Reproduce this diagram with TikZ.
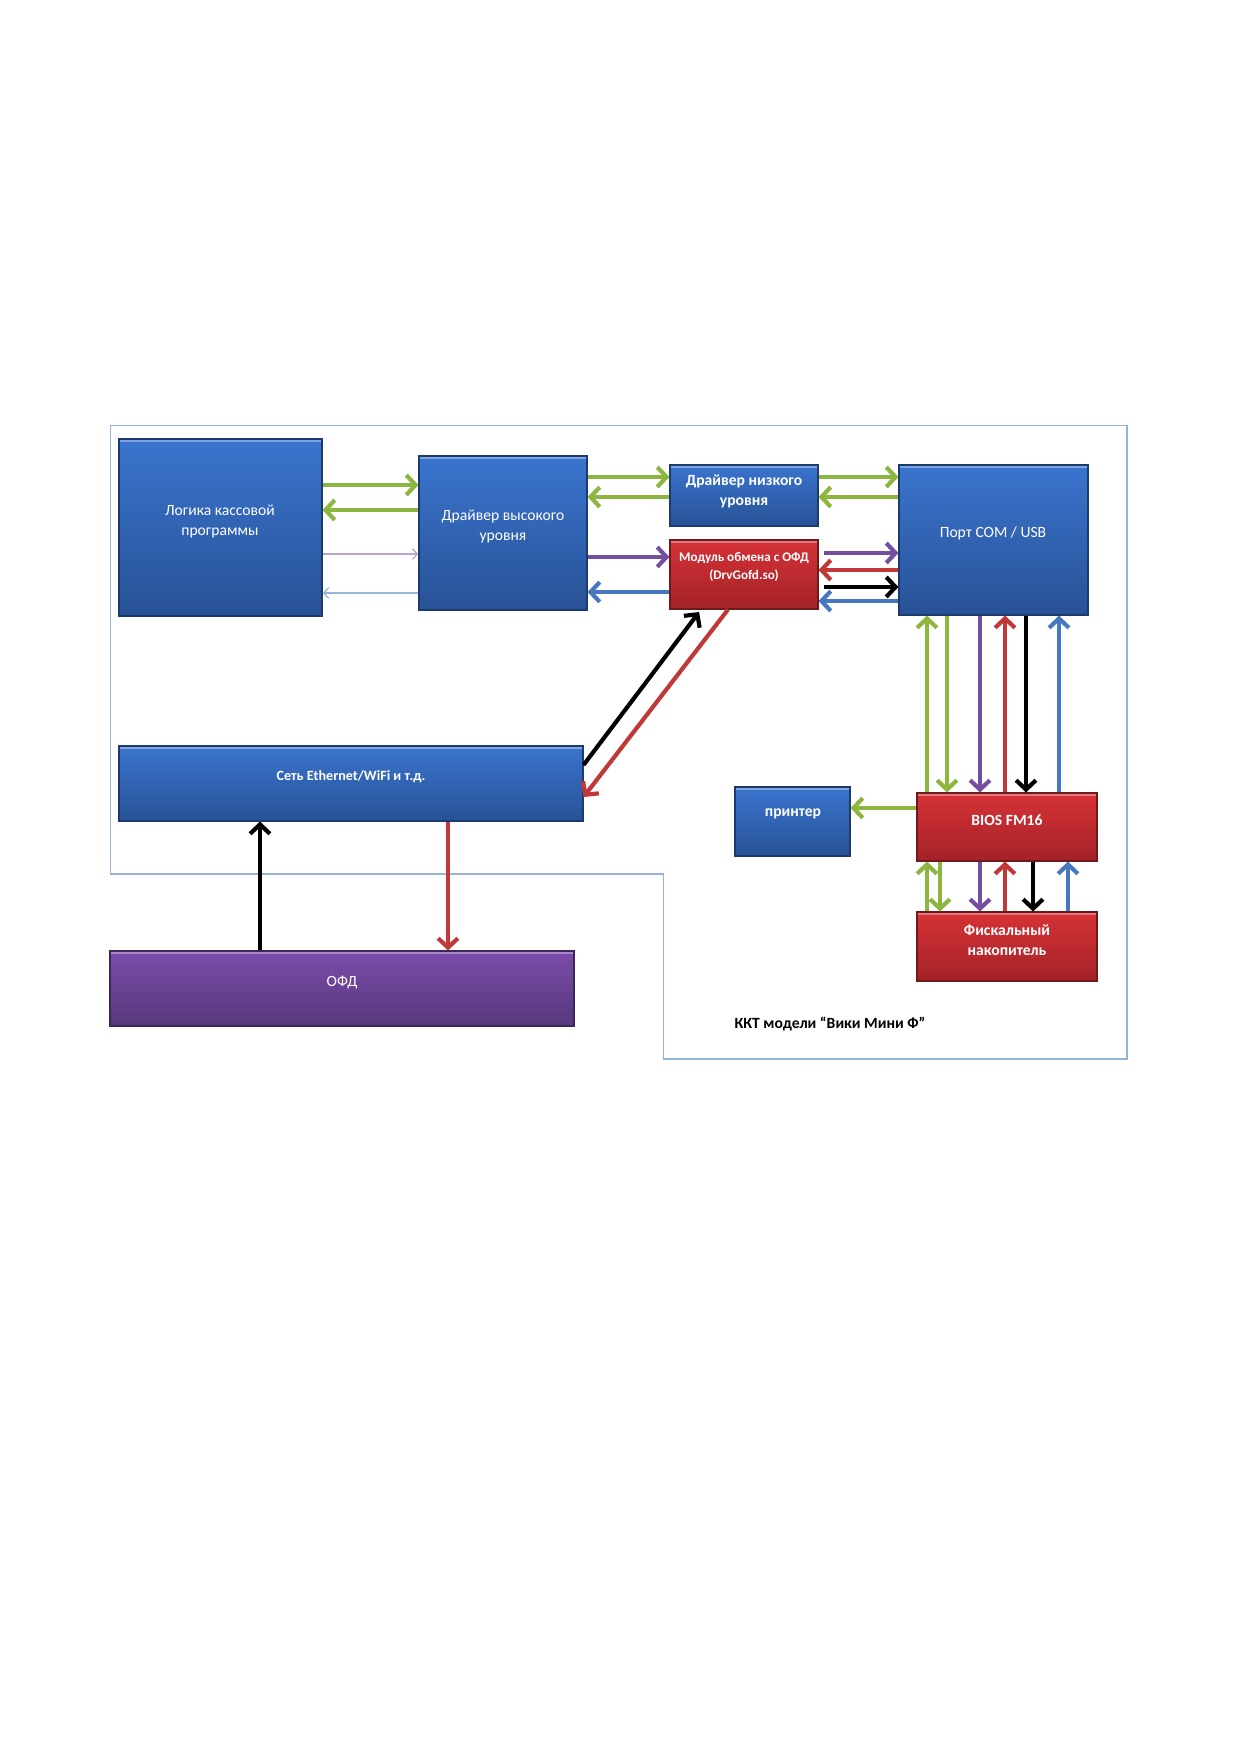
\documentclass[tikz,border=0pt]{standalone}
\usepackage{fontspec}
\setmainfont{Carlito}
\usetikzlibrary{arrows.meta,fit,calc}
\definecolor{blT}{RGB}{58,116,206}
\definecolor{blB}{RGB}{40,82,150}
\definecolor{blD}{RGB}{28,58,108}
\definecolor{rdT}{RGB}{214,50,54}
\definecolor{rdB}{RGB}{163,34,40}
\definecolor{rdD}{RGB}{110,25,28}
\definecolor{puT}{RGB}{124,76,170}
\definecolor{puB}{RGB}{86,56,124}
\definecolor{puD}{RGB}{60,38,90}
\definecolor{cgreen}{RGB}{140,182,62}
\definecolor{cpurple}{RGB}{117,78,160}
\definecolor{cred}{RGB}{192,56,56}
\definecolor{cblue}{RGB}{70,120,192}
\definecolor{tpurple}{RGB}{184,165,212}
\definecolor{tblue}{RGB}{150,180,222}
\definecolor{frame}{RGB}{150,180,216}
\tikzset{
  boxbase/.style={inner sep=0pt, draw, line width=0.5pt,
    path picture={\draw[white,opacity=0.35,line width=1.2pt]
      ([yshift=-0.6pt]path picture bounding box.north west) -- ([yshift=-0.6pt]path picture bounding box.north east);}},
  bluebox/.style={boxbase, draw=blD, top color=blT, bottom color=blB},
  redbox/.style={boxbase, draw=rdD, top color=rdT, bottom color=rdB},
  purplebox/.style={boxbase, draw=puD, top color=puT, bottom color=puB},
  lbl/.style={text=white, align=center, font=\fontsize{7.5}{9.6}\selectfont},
  lblb/.style={lbl, font=\fontsize{7.5}{9.6}\selectfont\bfseries},
  arr/.style={line width=2pt, -{Straight Barb[length=4.5pt,width=9.5pt]}},
  garr/.style={arr, draw=cgreen},
  parr/.style={arr, draw=cpurple},
  rarr/.style={arr, draw=cred},
  barr/.style={arr, draw=cblue},
  karr/.style={arr, draw=black},
  thinarr/.style={line width=0.6pt, -{Straight Barb[length=2.5pt,width=5pt]}},
}
\begin{document}
\begin{tikzpicture}[x=0.48pt,y=-0.48pt]
\useasboundingbox (0,0) rectangle (1239,1752);
\fill[white] (0,0) rectangle (1239,1752);
% outer frame
\draw[frame, line width=0.7pt] (110.6,425.7) -- (1127,425.7) -- (1127,1059) -- (663.5,1059) -- (663.5,874) -- (110.6,874) -- cycle;

% boxes
\node[bluebox, fit={(119,439) (322,616)}] (A) {};
\node[bluebox, fit={(419,456) (587,610)}] (B) {};
\node[bluebox, fit={(670,465) (818,526)}] (C) {};
\node[redbox, fit={(670,540) (818,609)}] (D) {};
\node[bluebox, fit={(899,465) (1088,615)}] (E) {};
\node[bluebox, fit={(119,746) (583,821)}] (F) {};
\node[bluebox, fit={(735,787) (850,856)}] (G) {};
\node[redbox, fit={(917,793) (1097,861)}] (H) {};
\node[redbox, fit={(917,912) (1097,981)}] (I) {};
\node[purplebox, fit={(110,951) (574,1026)}] (J) {};

% texts
\node[lbl] (At) at (220,521) {Логика кассовой\\программы};
\node[lbl] (Bt) at (503,526) {Драйвер высокого\\уровня};
\node[lblb] (Ct) at (744,491) {Драйвер низкого\\уровня};
\node[lblb, font=\fontsize{6.3}{8.6}\selectfont\bfseries] (Dt) at (744,567) {Модуль обмена с ОФД\\(DrvGofd.so)};
\node[lbl] (Et) at (993,533) {Порт COM / USB};
\node[lblb, font=\fontsize{6.8}{9}\selectfont\bfseries] (Ft) at (351,777) {Сеть Ethernet/WiFi и т.д.};
\node[lblb] (Gt) at (793,814) {принтер};
\node[lblb] (Ht) at (1007,820) {BIOS FM16};
\node[lblb] (It) at (1007,940) {Фискальный\\накопитель};
\node[lbl] (Jt) at (342,982) {ОФД};
\node[lblb, text=black] (Kt) at (830,1024) {ККТ модели “Вики Мини Ф”};

% A <-> B
\draw[garr] (A.east |- 0,485) -- (B.west |- 0,485);
\draw[garr] (B.west |- 0,510) -- (A.east |- 0,510);
\draw[thinarr, draw=tpurple] (A.east |- 0,554) -- (B.west |- 0,554);
\draw[thinarr, draw=tblue] (B.west |- 0,593) -- (A.east |- 0,593);
% B <-> C
\draw[garr] (B.east |- 0,477) -- (C.west |- 0,477);
\draw[garr] (C.west |- 0,497) -- (B.east |- 0,497);
% B <-> D
\draw[parr] (B.east |- 0,557) -- (D.west |- 0,557);
\draw[barr] (D.west |- 0,592) -- (B.east |- 0,592);
% C <-> E
\draw[garr] (C.east |- 0,477) -- (E.west |- 0,477);
\draw[garr] (E.west |- 0,497) -- (C.east |- 0,497);
% D <-> E
\draw[parr, shorten <=5pt*0.48] (D.east |- 0,553) -- (E.west |- 0,553);
\draw[rarr] (E.west |- 0,570) -- (D.east |- 0,570);
\draw[karr, shorten <=2.4pt] (D.east |- 0,587) -- (E.west |- 0,587);
\draw[barr] (E.west |- 0,601) -- (D.east |- 0,601);
% E <-> H
\draw[garr] (H.north -| 927,0) -- (E.south -| 927,0);
\draw[garr] (E.south -| 947,0) -- (H.north -| 947,0);
\draw[parr] (E.south -| 980,0) -- (H.north -| 980,0);
\draw[rarr] (H.north -| 1005,0) -- (E.south -| 1005,0);
\draw[karr] (E.south -| 1026,0) -- (H.north -| 1026,0);
\draw[barr] (H.north -| 1059,0) -- (E.south -| 1059,0);
% H <-> I
\draw[garr] (I.north -| 927,0) -- (H.south -| 927,0);
\draw[garr] (H.south -| 940,0) -- (I.north -| 940,0);
\draw[parr] (H.south -| 980,0) -- (I.north -| 980,0);
\draw[rarr] (I.north -| 1005,0) -- (H.south -| 1005,0);
\draw[karr] (H.south -| 1033,0) -- (I.north -| 1033,0);
\draw[barr] (I.north -| 1068,0) -- (H.south -| 1068,0);
% H -> printer
\draw[garr] (H.west |- 0,808) -- (G.east |- 0,808);
% F <-> D
\draw[karr, shorten >=1.5pt] (F.east |- 0,765) -- (D.south -| 701,0);
\draw[rarr] (D.south -| 728,0) -- (F.east |- 0,797);
% F <-> J
\draw[karr] (J.north -| 260,0) -- (F.south -| 260,0);
\draw[rarr] (F.south -| 448,0) -- (J.north -| 448,0);
\end{tikzpicture}
\end{document}
